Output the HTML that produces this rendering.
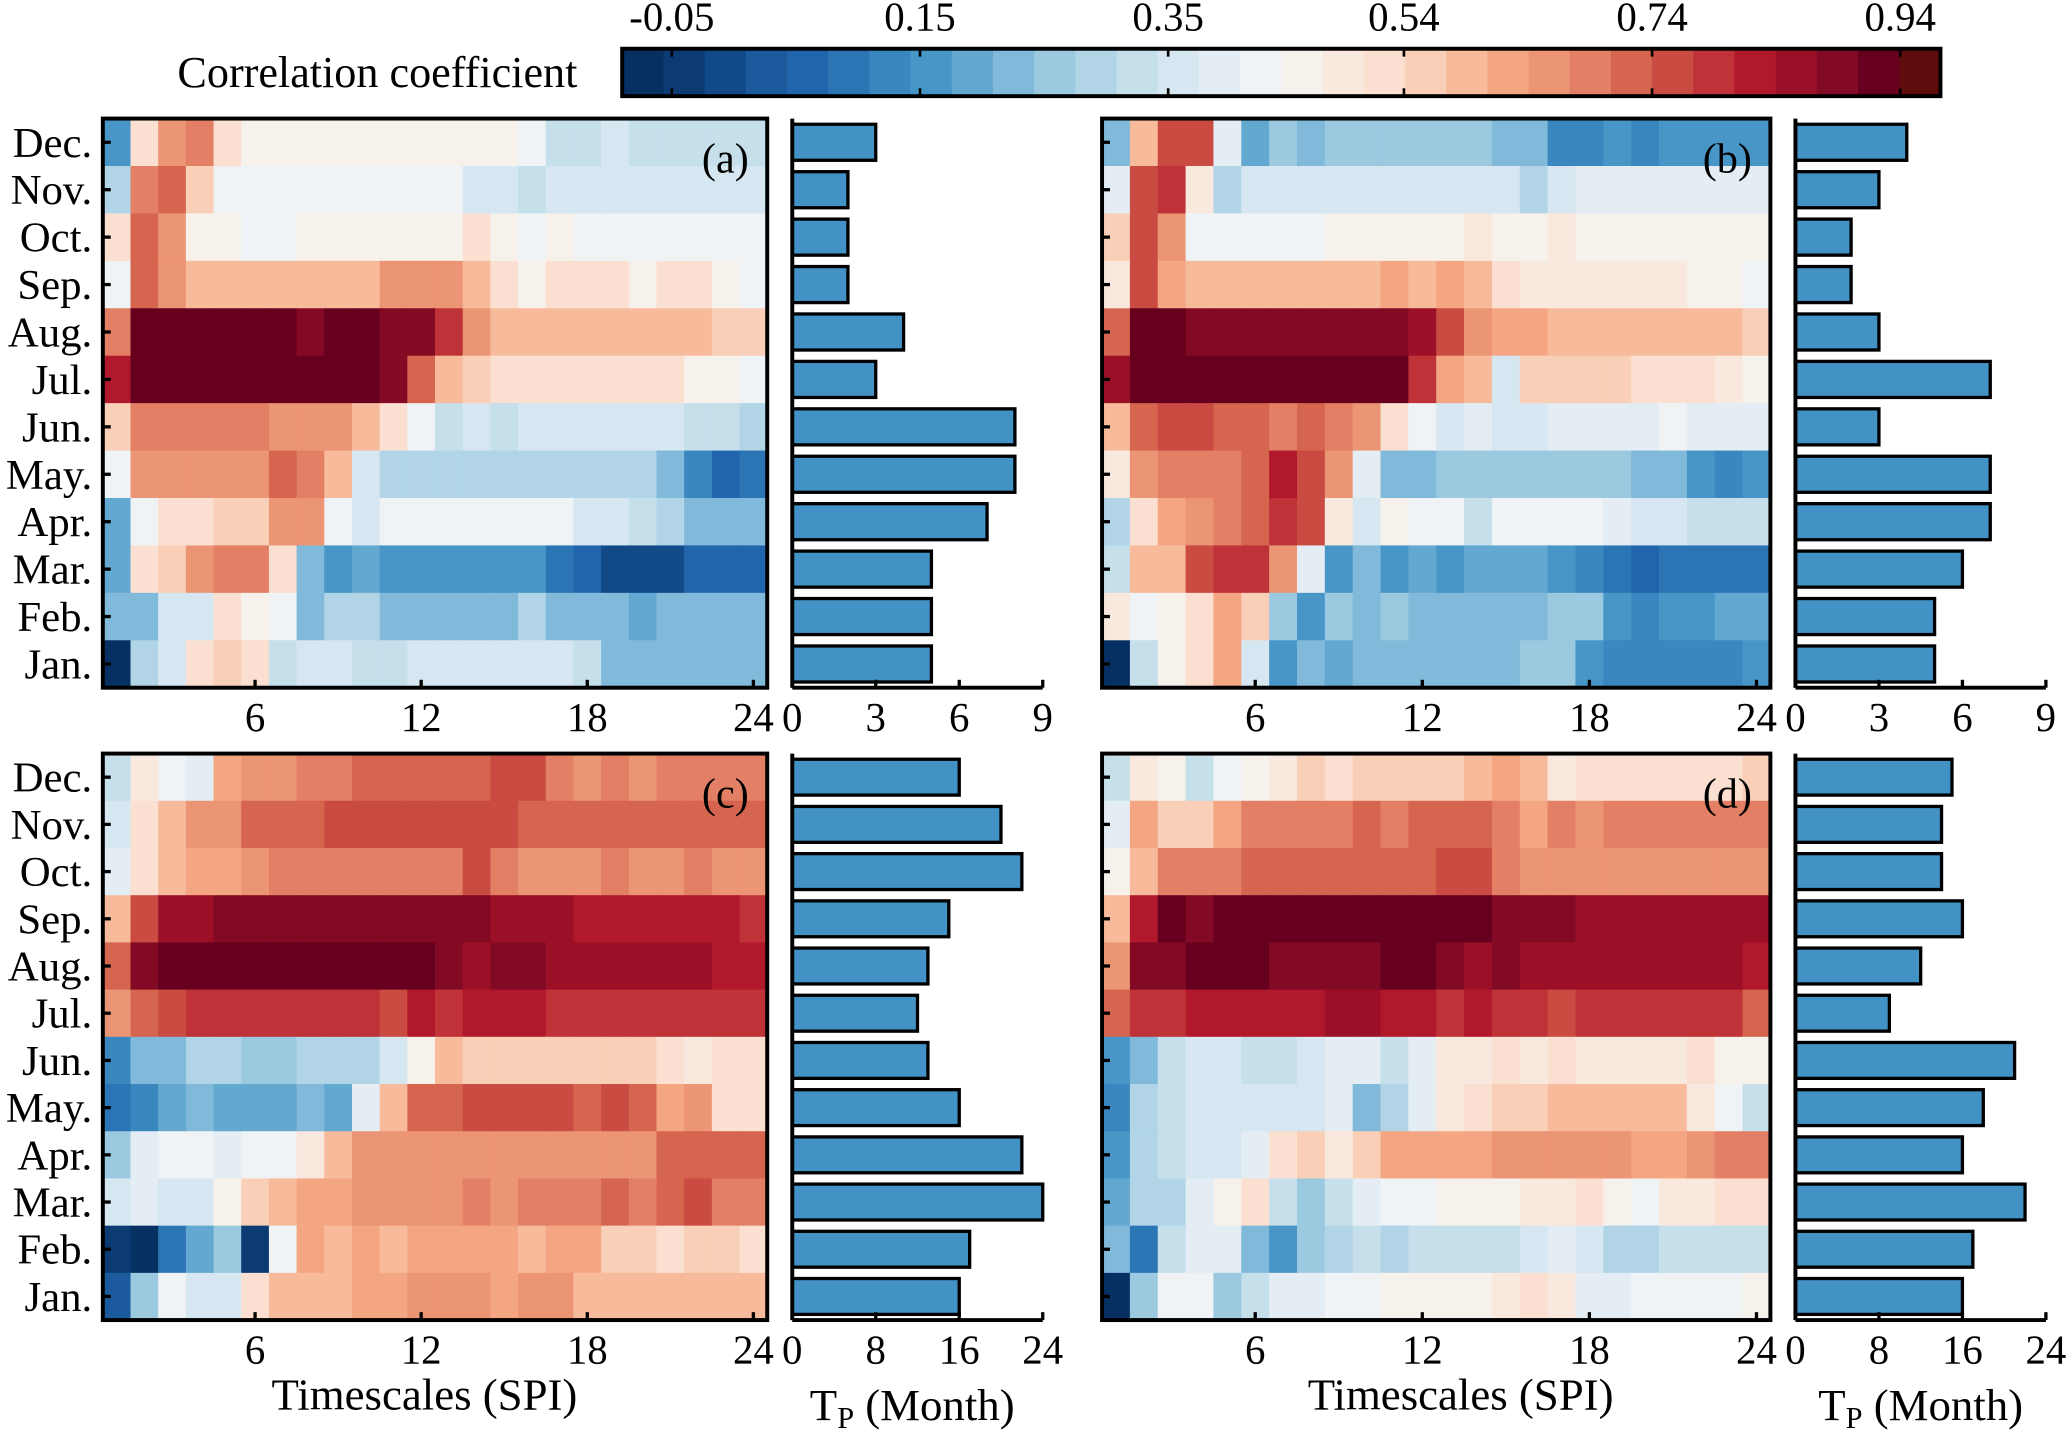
<!DOCTYPE html>
<html><head><meta charset="utf-8"><style>html,body{margin:0;padding:0;background:#fff}svg{display:block}svg text{font-family:"Liberation Serif","Times New Roman",serif}</style></head>
<body>
<svg id="fig" width="2067" height="1436" viewBox="0 0 1568 1090" preserveAspectRatio="none" xmlns="http://www.w3.org/2000/svg" style="font-family:'Liberation Serif',serif"></svg>
<script>
// months, top to bottom
const months = ["Dec.","Nov.","Oct.","Sep.","Aug.","Jul.","Jun.","May.","Apr.","Mar.","Feb.","Jan."];
const timescales = [1,2,3,4,5,6,7,8,9,10,11,12,13,14,15,16,17,18,19,20,21,22,23,24];
const xTicksHeat = [6,12,18,24];
const cbTickLabels = ["-0.05","0.15","0.35","0.54","0.74","0.94"];
const cbTickValues = [-0.05,0.15,0.35,0.54,0.74,0.94];
const cbMin = -0.09, cbStep = 0.0332;
const palette = ["#053061","#0b3b72","#124a87","#1b5a9c","#2166ac","#2c75b4","#3a87bf","#4896c7","#63a8d0","#80b9d9","#9bc9e0","#b1d5e7","#c5dfeb","#d6e7f1","#e3edf3","#eff3f5","#f7f1ec","#f9e8de","#fbe0d1","#f9cfb7","#f7bb9c","#f4a683","#ec9575","#e27f64","#d6654f","#ca4b42","#bf3338","#b2182b","#9b1026","#830a24","#67001f","#5e0c0c"];
// correlation bins (colour class index on the colourbar), rows Dec..Jan
const binsA = [
[7,18,22,23,18,16,16,16,16,16,16,16,16,16,16,15,12,12,13,12,12,12,12,12],
[11,23,24,19,15,15,15,15,15,15,15,15,15,13,13,12,13,13,13,13,13,13,13,13],
[18,24,22,16,16,15,15,16,16,16,16,16,16,18,16,15,16,15,15,15,15,15,15,15],
[15,24,22,20,20,20,20,20,20,20,22,22,22,20,18,16,18,18,18,16,18,18,16,15],
[23,30,30,30,30,30,30,29,30,30,29,29,26,22,20,20,20,20,20,20,20,20,19,19],
[27,30,30,30,30,30,30,30,30,30,29,24,20,19,18,18,18,18,18,18,18,16,16,15],
[19,23,23,23,23,23,22,22,22,20,18,15,12,13,12,13,13,13,13,13,13,12,12,11],
[15,22,22,22,22,22,24,23,20,13,11,11,11,11,11,11,11,11,11,11,9,6,4,5],
[8,15,18,18,19,19,22,22,15,13,15,15,15,15,15,15,15,13,13,12,11,9,9,9],
[8,18,19,22,23,23,18,9,7,8,7,7,7,7,7,7,5,4,2,2,2,4,4,4],
[9,9,13,13,18,16,15,9,11,11,9,9,9,9,9,11,9,9,9,8,9,9,9,9],
[0,11,13,18,19,18,12,13,13,12,12,13,13,13,13,13,13,12,9,9,9,9,9,9]];
const binsB = [
[9,20,25,25,14,8,10,9,10,10,10,10,10,10,9,9,6,6,7,6,7,7,7,7],
[14,25,26,17,11,13,13,13,13,13,13,13,13,13,13,11,13,14,14,14,14,14,14,14],
[19,25,22,15,15,15,15,15,16,16,16,16,16,17,16,16,17,16,16,16,16,16,16,16],
[17,25,21,20,20,20,20,20,20,20,21,20,21,20,18,17,17,17,17,17,17,16,16,15],
[24,30,30,29,29,29,29,29,29,29,29,28,25,22,21,21,20,20,20,20,20,20,20,19],
[28,30,30,30,30,30,30,30,30,30,30,26,21,20,13,19,19,19,19,18,18,18,17,16],
[20,24,25,25,24,24,23,24,23,22,18,15,13,14,13,13,14,14,14,14,15,14,14,14],
[17,22,23,23,23,24,27,25,22,14,9,9,10,10,10,10,10,10,10,9,9,7,6,7],
[11,18,21,22,23,24,26,25,17,13,16,15,15,12,15,15,15,15,14,13,13,12,12,12],
[12,20,20,25,26,26,22,14,7,9,7,8,7,8,8,8,7,6,5,4,5,5,5,5],
[17,15,16,18,21,19,10,7,10,9,10,9,9,9,9,9,10,10,7,6,7,7,8,8],
[0,12,16,18,21,13,7,9,8,9,9,9,9,9,9,10,10,7,6,6,6,6,6,7]];
const binsC = [
[12,17,15,14,21,22,22,23,23,24,24,24,24,24,25,25,23,22,23,22,23,23,23,23],
[13,18,20,22,22,24,24,24,25,25,25,25,25,25,25,24,24,24,24,24,24,24,24,24],
[14,18,20,21,21,22,23,23,23,23,23,23,23,25,23,22,22,22,23,22,22,23,22,22],
[20,25,28,28,29,29,29,29,29,29,29,29,29,29,28,28,28,27,27,27,27,27,27,26],
[24,29,30,30,30,30,30,30,30,30,30,30,29,28,29,29,28,28,28,28,28,28,27,27],
[22,24,25,26,26,26,26,26,26,26,25,27,26,27,27,27,26,26,26,26,26,26,26,26],
[6,9,9,11,11,10,10,11,11,11,13,16,20,19,19,19,19,19,19,19,18,17,18,18],
[5,6,8,9,8,8,8,9,8,14,20,24,24,25,25,25,25,24,25,24,21,22,18,18],
[10,14,15,15,14,15,15,17,20,22,22,22,22,22,22,22,22,22,22,22,24,24,24,24],
[13,14,13,13,16,19,20,21,21,22,22,22,22,23,22,23,23,23,24,23,24,25,23,23],
[1,0,5,8,10,1,15,21,20,21,20,21,21,21,21,20,21,21,19,19,18,19,19,18],
[3,10,15,13,13,18,20,20,20,21,21,22,22,22,21,22,22,20,20,20,20,20,20,20]];
const binsD = [
[12,17,16,12,15,16,17,19,18,19,19,19,19,20,21,20,17,18,18,18,18,18,18,19],
[14,21,19,19,21,23,23,23,23,24,23,24,24,24,23,21,23,22,23,23,23,23,23,23],
[16,20,23,23,23,24,24,24,24,24,24,24,25,25,23,22,22,22,22,22,22,22,22,22],
[20,27,30,29,30,30,30,30,30,30,30,30,30,30,29,29,29,28,28,28,28,28,28,28],
[22,29,29,30,30,30,29,29,29,29,30,30,29,28,29,28,28,28,28,28,28,28,28,27],
[24,26,26,27,27,27,27,27,28,28,27,27,26,27,26,26,25,26,26,26,26,26,26,24],
[7,9,12,13,13,12,12,13,14,14,12,14,17,17,18,17,18,17,17,17,17,18,16,16],
[6,11,12,13,13,13,13,13,14,9,11,14,17,18,19,19,20,20,20,20,20,17,15,12],
[7,11,12,13,13,14,18,19,17,19,21,21,21,21,22,22,22,22,22,21,21,22,23,23],
[8,11,11,14,16,18,12,10,12,14,15,15,16,16,16,17,17,18,16,15,17,17,18,18],
[9,5,12,14,14,9,7,10,11,12,11,12,12,12,12,13,14,13,11,11,12,12,12,12],
[0,10,15,15,10,12,14,14,15,15,16,16,16,16,17,18,17,14,14,15,15,15,15,16]];
// Tp (month), rows Dec..Jan
const tpA = [3,2,2,2,4,3,8,8,7,5,5,5];
const tpB = [4,3,2,2,3,7,3,7,7,6,5,5];
const tpC = [16,20,22,15,13,12,13,16,22,24,17,16];
const tpD = [15,14,14,16,12,9,21,18,16,22,17,16];
const tpTicksTop = [0,3,6,9];
const tpTicksBot = [0,8,16,24];

const NS = "http://www.w3.org/2000/svg";
const svg = document.getElementById("fig");
function mk(tag, attrs, parent){const e=document.createElementNS(NS,tag);for(const k in attrs)e.setAttribute(k,attrs[k]);(parent||svg).appendChild(e);return e;}
function txt(s, attrs, parent){const e=mk("text",attrs,parent);e.textContent=s;return e;}
function colorOf(bin){return palette[Math.max(0,Math.min(palette.length-1,Math.round(bin)))];}

// colourbar
const cbX0=472, cbX1=1472, cbY0=37, cbY1=73;
const cbG = mk("g",{});


const segW=(cbX1-cbX0)/palette.length;
palette.forEach((c,i)=>{const r=mk("rect",{x:cbX0+i*segW,y:cbY0,width:segW+0.6,height:cbY1-cbY0,fill:c},cbG);

});
mk("rect",{x:cbX0,y:cbY0,width:cbX1-cbX0,height:cbY1-cbY0,fill:"none",stroke:"#000","stroke-width":3},cbG);
function cbx(v){return cbX0+(v-cbMin)/cbStep*segW;}
cbTickValues.forEach((v,i)=>{const x=cbx(v);
mk("line",{x1:x,x2:x,y1:cbY0,y2:cbY0+6,stroke:"#000","stroke-width":2},cbG);
mk("line",{x1:x,x2:x,y1:cbY1-6,y2:cbY1,stroke:"#000","stroke-width":2},cbG);
const t=txt(cbTickLabels[i],{x:x,y:23,"font-size":31,"text-anchor":"middle"},cbG);

});
const cbl=txt("Correlation coefficient",{x:438,y:66,"font-size":33.5,"text-anchor":"end"});



function heat(bins, x0, x1, y0, y1, tag, showMonths){
  const g=mk("g",{});
  
  
  const cw=(x1-x0)/timescales.length, rh=(y1-y0)/months.length;
  bins.forEach((row,r)=>row.forEach((b,c)=>{
    const e=mk("rect",{x:x0+c*cw,y:y0+r*rh,width:cw+0.5,height:rh+0.5,fill:colorOf(b)},g);
    
    
  }));
  mk("rect",{x:x0,y:y0,width:x1-x0,height:y1-y0,fill:"none",stroke:"#000","stroke-width":3},g);
  months.forEach((m,r)=>{const y=y0+(r+0.5)*rh;
    mk("line",{x1:x0,x2:x0+6,y1:y,y2:y,stroke:"#000","stroke-width":2.5},g);
    if(showMonths){const t=txt(m,{x:x0-8,y:y+11,"font-size":32.5,"text-anchor":"end"},g);
      
      }
  });
  xTicksHeat.forEach(v=>{const x=x0+(v-0.5)*cw;
    mk("line",{x1:x,x2:x,y1:y1,y2:y1-6,stroke:"#000","stroke-width":2.5},g);
    const t=txt(String(v),{x:x,y:y1+33,"font-size":31,"text-anchor":"middle"},g);
    
    });
  const lt=txt("("+tag+")",{x:x1-14,y:y0+41,"font-size":32,"text-anchor":"end"},g);
  
  
}
function bars(vals, ticks, x0, x1, y0, y1, tag){
  const g=mk("g",{});
  
  
  const max=ticks[ticks.length-1], rh=(y1-y0)/months.length;
  const sx=v=>x0+v/max*(x1-x0);
  vals.forEach((v,r)=>{const b=mk("rect",{x:sx(0),y:y0+r*rh+rh*0.12,width:sx(v)-sx(0),height:rh*0.76,fill:"#4292c6",stroke:"#000","stroke-width":2.5},g);
    
    });
  mk("line",{x1:x0,x2:x0,y1:y0,y2:y1,stroke:"#000","stroke-width":3},g);
  mk("line",{x1:x0,x2:x1,y1:y1,y2:y1,stroke:"#000","stroke-width":3},g);
  ticks.forEach(v=>{const x=sx(v);
    mk("line",{x1:x,x2:x,y1:y1,y2:y1-6,stroke:"#000","stroke-width":2.5},g);
    const t=txt(String(v),{x:x,y:y1+33,"font-size":31,"text-anchor":"middle"},g);
    
    });
}
heat(binsA,78,582,90,522,"a",true);
heat(binsB,836,1343,90,522,"b",false);
heat(binsC,78,582,572,1002,"c",true);
heat(binsD,836,1343,572,1002,"d",false);
bars(tpA,tpTicksTop,601,791,90,522,"a");
bars(tpB,tpTicksTop,1362,1552,90,522,"b");
bars(tpC,tpTicksBot,601,791,572,1002,"c");
bars(tpD,tpTicksBot,1362,1552,572,1002,"d");
[322,1108].forEach(x=>{const t=txt("Timescales (SPI)",{x:x,y:1070,"font-size":34,"text-anchor":"middle"});

});
[692,1457].forEach(x=>{const t=mk("text",{x:x,y:1078,"font-size":34,"text-anchor":"middle"});


t.innerHTML='T<tspan font-size="23" dy="6">P</tspan><tspan dy="-6"> (Month)</tspan>';});
</script>
</body></html>
